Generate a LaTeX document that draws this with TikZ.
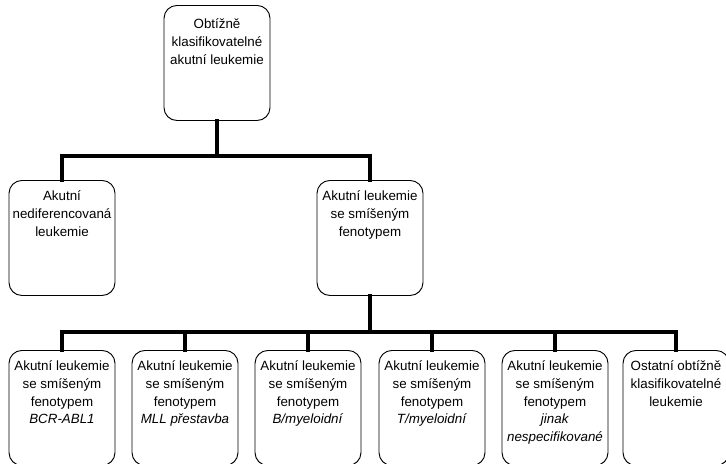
\documentclass[tikz,border=0pt]{standalone}
\usepackage{fontspec}
\setmainfont{Liberation Sans}
\tikzset{
	klas/.style={draw, line width=0.8pt, rounded corners=11pt, anchor=north,
		inner xsep=0pt, inner ysep=5pt,
		font=\fontsize{11.4pt}{15.2pt}\selectfont,
		execute at begin node={\begin{minipage}[t][\dimexpr3.45cm-10pt][t]{3.18cm}\centering\rule{0pt}{12pt}},
		execute at end node={\end{minipage}}},
	spoj/.style={line width=3.4pt, line cap=rect, line join=miter}
}

\begin{document}
\begin{tikzpicture}[x=0.03cm, y=-0.03cm]
		\useasboundingbox (0,0) rectangle (726,463);

		% horni uroven
		\node[klas] (obtiz) at (217,5) {\rule{0pt}{15pt}Obtížně\\ klasifikovatelné\\ akutní leukemie};

		% druha uroven
		\node[klas] (nedif) at (62,180) {Akutní\\ nediferencovaná\\ leukemie};
		\node[klas] (smis) at (370,180) {Akutní leukemie\\ se smíšeným\\ fenotypem};

		% treti uroven
		\node[klas] (bcr) at (62,350) {Akutní leukemie\\ se smíšeným\\ fenotypem\\ \textit{BCR-ABL1}};
		\node[klas] (mll) at (185,350) {Akutní leukemie\\ se smíšeným\\ fenotypem\\ \textit{MLL přestavba}};
		\node[klas] (bmy) at (308,350) {Akutní leukemie\\ se smíšeným\\ fenotypem\\ \textit{B/myeloidní}};
		\node[klas] (tmy) at (432,350) {Akutní leukemie\\ se smíšeným\\ fenotypem\\ \textit{T/myeloidní}};
		\node[klas] (jinak) at (555,350) {Akutní leukemie\\ se smíšeným\\ fenotypem\\ \textit{jinak}\\ \textit{nespecifikované}};
		\node[klas] (ostat) at (676,350) {Ostatní obtížně\\ klasifikovatelné\\ leukemie};

		\coordinate (h1) at (0,156);
		\coordinate (h2) at (0,332);

		\draw[spoj] (obtiz.south) -- (obtiz.south |- h1);
		\draw[spoj] (nedif.north) |- (h1 -| smis) -- (smis.north);

		\draw[spoj] (smis.south) -- (smis.south |- h2);
		\draw[spoj] (bcr.north) |- (h2 -| ostat) -- (ostat.north);
		\foreach \n in {mll, bmy, tmy, jinak}
			\draw[spoj] (\n.north) -- (\n.north |- h2);
	\end{tikzpicture}
\end{document}
